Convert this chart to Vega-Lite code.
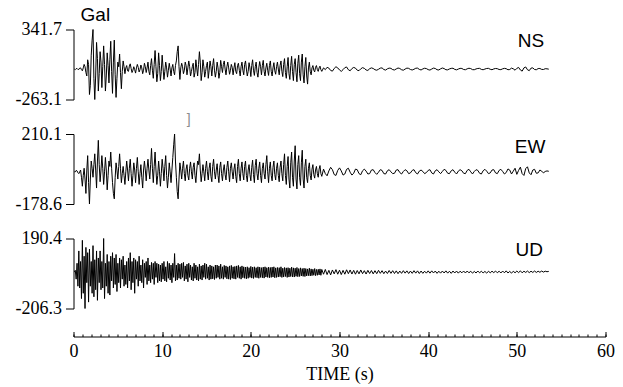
{
  "$schema": "https://vega.github.io/schema/vega-lite/v6.json",
  "padding": {"left": 14.5, "top": 5.5, "right": 10, "bottom": 2},
  "background": "white",
  "config": {"view": {"stroke": null}},
  "datasets": {
    "seis": [
      {"t":0.1,"ns":0,"ew":0,"ud":0},{"t":0.2,"ns":-5,"ew":0,"ud":10},{"t":0.3,"ns":3,"ew":8,"ud":-40},{"t":0.4,"ns":5,"ew":5,"ud":50},
      {"t":0.5,"ns":-4,"ew":-5,"ud":-80},{"t":0.6,"ns":-3,"ew":-10,"ud":120},{"t":0.7,"ns":8,"ew":0,"ud":-90},{"t":0.8,"ns":10,"ew":10,"ud":60},
      {"t":0.9,"ns":-5,"ew":-30,"ud":-150},{"t":1.0,"ns":-15,"ew":-80,"ud":180},{"t":1.1,"ns":10,"ew":-20,"ud":-120},{"t":1.2,"ns":40,"ew":20,"ud":90},
      {"t":1.3,"ns":20,"ew":-40,"ud":-206.3},{"t":1.4,"ns":-30,"ew":-120,"ud":140},{"t":1.5,"ns":-60,"ew":10,"ud":-60},{"t":1.6,"ns":80,"ew":90,"ud":110},
      {"t":1.7,"ns":40,"ew":-60,"ud":-170},{"t":1.8,"ns":-220,"ew":-178.6,"ud":130},{"t":1.9,"ns":-140,"ew":-40,"ud":-80},{"t":2.0,"ns":120,"ew":60,"ud":60},
      {"t":2.1,"ns":250,"ew":20,"ud":-120},{"t":2.2,"ns":341.7,"ew":-30,"ud":150},{"t":2.3,"ns":-80,"ew":40,"ud":-140},{"t":2.4,"ns":-263.1,"ew":100,"ud":70},
      {"t":2.5,"ns":-60,"ew":10,"ud":-100},{"t":2.6,"ns":230,"ew":-90,"ud":120},{"t":2.7,"ns":90,"ew":60,"ud":-160},{"t":2.8,"ns":-190,"ew":175,"ud":80},
      {"t":2.9,"ns":-40,"ew":40,"ud":-60},{"t":3.0,"ns":150,"ew":-55,"ud":120},{"t":3.1,"ns":60,"ew":10,"ud":-100},{"t":3.2,"ns":-160,"ew":90,"ud":60},
      {"t":3.3,"ns":20,"ew":20,"ud":-90},{"t":3.4,"ns":200,"ew":-70,"ud":190.4},{"t":3.5,"ns":40,"ew":0,"ud":-150},{"t":3.6,"ns":-190,"ew":80,"ud":50},
      {"t":3.7,"ns":-60,"ew":10,"ud":-80},{"t":3.8,"ns":140,"ew":-100,"ud":100},{"t":3.9,"ns":30,"ew":-20,"ud":-120},{"t":4.0,"ns":-120,"ew":60,"ud":60},
      {"t":4.1,"ns":80,"ew":30,"ud":-130},{"t":4.2,"ns":240,"ew":110,"ud":90},{"t":4.3,"ns":-20,"ew":20,"ud":-50},{"t":4.4,"ns":-210,"ew":-60,"ud":110},
      {"t":4.5,"ns":60,"ew":-120,"ud":-90},{"t":4.6,"ns":250,"ew":-150,"ud":80},{"t":4.7,"ns":-50,"ew":-30,"ud":-70},{"t":4.8,"ns":-245,"ew":50,"ud":100},
      {"t":4.9,"ns":-80,"ew":10,"ud":-110},{"t":5.0,"ns":60,"ew":-40,"ud":50},{"t":5.1,"ns":20,"ew":30,"ud":-60},{"t":5.2,"ns":130,"ew":100,"ud":80},
      {"t":5.3,"ns":-30,"ew":20,"ud":-90},{"t":5.4,"ns":-170,"ew":-60,"ud":70},{"t":5.5,"ns":-20,"ew":-10,"ud":-40},{"t":5.6,"ns":70,"ew":30,"ud":90},
      {"t":5.7,"ns":20,"ew":-20,"ud":-80},{"t":5.8,"ns":-40,"ew":-70,"ud":40},{"t":5.9,"ns":10,"ew":0,"ud":-70},{"t":6.0,"ns":30,"ew":60,"ud":60},
      {"t":6.1,"ns":-15,"ew":10,"ud":-90},{"t":6.2,"ns":-20,"ew":-50,"ud":80},{"t":6.3,"ns":25,"ew":20,"ud":-50},{"t":6.4,"ns":45,"ew":70,"ud":110},
      {"t":6.5,"ns":5,"ew":-10,"ud":-100},{"t":6.6,"ns":-30,"ew":-80,"ud":60},{"t":6.7,"ns":-10,"ew":-20,"ud":-60},{"t":6.8,"ns":20,"ew":50,"ud":80},
      {"t":6.9,"ns":-5,"ew":10,"ud":-120},{"t":7.0,"ns":-35,"ew":-60,"ud":70},{"t":7.1,"ns":10,"ew":20,"ud":-40},{"t":7.2,"ns":40,"ew":80,"ud":60},
      {"t":7.3,"ns":15,"ew":0,"ud":-80},{"t":7.4,"ns":-25,"ew":-70,"ud":90},{"t":7.5,"ns":-5,"ew":-10,"ud":-50},{"t":7.6,"ns":35,"ew":40,"ud":40},
      {"t":7.7,"ns":10,"ew":-30,"ud":-60},{"t":7.8,"ns":-40,"ew":-90,"ud":70},{"t":7.9,"ns":-10,"ew":10,"ud":-90},{"t":8.0,"ns":50,"ew":60,"ud":50},
      {"t":8.1,"ns":20,"ew":10,"ud":-30},{"t":8.2,"ns":-30,"ew":-50,"ud":60},{"t":8.3,"ns":10,"ew":20,"ud":-70},{"t":8.4,"ns":60,"ew":70,"ud":80},
      {"t":8.5,"ns":-20,"ew":10,"ud":-50},{"t":8.6,"ns":-50,"ew":-40,"ud":40},{"t":8.7,"ns":30,"ew":40,"ud":-60},{"t":8.8,"ns":90,"ew":130,"ud":55},
      {"t":8.9,"ns":-10,"ew":20,"ud":-40},{"t":9.0,"ns":-80,"ew":-60,"ud":50},{"t":9.1,"ns":40,"ew":30,"ud":-70},{"t":9.2,"ns":160,"ew":110,"ud":60},
      {"t":9.3,"ns":20,"ew":10,"ud":-30},{"t":9.4,"ns":-110,"ew":-70,"ud":50},{"t":9.5,"ns":-40,"ew":-20,"ud":-60},{"t":9.6,"ns":140,"ew":60,"ud":45},
      {"t":9.7,"ns":30,"ew":0,"ud":-50},{"t":9.8,"ns":-100,"ew":-80,"ud":40},{"t":9.9,"ns":-20,"ew":-10,"ud":-55},{"t":10.0,"ns":120,"ew":70,"ud":50},
      {"t":10.1,"ns":10,"ew":20,"ud":-40},{"t":10.2,"ns":-90,"ew":-50,"ud":60},{"t":10.3,"ns":-20,"ew":30,"ud":-50},{"t":10.4,"ns":60,"ew":90,"ud":30},
      {"t":10.5,"ns":10,"ew":-20,"ud":-55},{"t":10.6,"ns":-70,"ew":-90,"ud":60},{"t":10.7,"ns":-10,"ew":-30,"ud":-35},{"t":10.8,"ns":50,"ew":50,"ud":50},
      {"t":10.9,"ns":0,"ew":0,"ud":-45},{"t":11.0,"ns":-60,"ew":-60,"ud":40},{"t":11.1,"ns":10,"ew":10,"ud":-60},{"t":11.2,"ns":40,"ew":80,"ud":50},
      {"t":11.3,"ns":-20,"ew":150,"ud":-30},{"t":11.4,"ns":-50,"ew":210.1,"ud":105},{"t":11.5,"ns":30,"ew":60,"ud":-50},{"t":11.6,"ns":70,"ew":-30,"ud":40},
      {"t":11.7,"ns":150,"ew":-110,"ud":-45},{"t":11.8,"ns":200,"ew":-150,"ud":50},{"t":11.9,"ns":20,"ew":-40,"ud":-35},{"t":12.0,"ns":-90,"ew":50,"ud":45},
      {"t":12.1,"ns":10,"ew":10,"ud":-40},{"t":12.2,"ns":50,"ew":-40,"ud":50},{"t":12.3,"ns":20,"ew":20,"ud":-30},{"t":12.4,"ns":-40,"ew":60,"ud":55},
      {"t":12.5,"ns":-10,"ew":-10,"ud":-50},{"t":12.6,"ns":60,"ew":-50,"ud":35},{"t":12.7,"ns":30,"ew":15,"ud":-40},{"t":12.8,"ns":-50,"ew":40,"ud":45},
      {"t":12.9,"ns":10,"ew":-20,"ud":-55},{"t":13.0,"ns":70,"ew":-45,"ud":50},{"t":13.1,"ns":20,"ew":20,"ud":-30},{"t":13.2,"ns":-60,"ew":55,"ud":40},
      {"t":13.3,"ns":-20,"ew":0,"ud":-45},{"t":13.4,"ns":20,"ew":-40,"ud":30},{"t":13.5,"ns":50,"ew":25,"ud":-50},{"t":13.6,"ns":-70,"ew":50,"ud":50},
      {"t":13.7,"ns":-30,"ew":-20,"ud":-35},{"t":13.8,"ns":80,"ew":-60,"ud":40},{"t":13.9,"ns":10,"ew":10,"ud":-45},{"t":14.0,"ns":-60,"ew":60,"ud":30},
      {"t":14.1,"ns":40,"ew":40,"ud":-50},{"t":14.2,"ns":150,"ew":100,"ud":45},{"t":14.3,"ns":60,"ew":10,"ud":-40},{"t":14.4,"ns":-100,"ew":-55,"ud":35},
      {"t":14.5,"ns":-30,"ew":-10,"ud":-45},{"t":14.6,"ns":80,"ew":40,"ud":40},{"t":14.7,"ns":20,"ew":0,"ud":-30},{"t":14.8,"ns":-70,"ew":-50,"ud":50},
      {"t":14.9,"ns":-20,"ew":20,"ud":-40},{"t":15.0,"ns":30,"ew":60,"ud":45},{"t":15.1,"ns":60,"ew":0,"ud":-35},{"t":15.2,"ns":-80,"ew":-45,"ud":30},
      {"t":15.3,"ns":-10,"ew":20,"ud":-45},{"t":15.4,"ns":70,"ew":50,"ud":40},{"t":15.5,"ns":20,"ew":-25,"ud":-40},{"t":15.6,"ns":-60,"ew":-55,"ud":35},
      {"t":15.7,"ns":30,"ew":30,"ud":-38},{"t":15.8,"ns":90,"ew":70,"ud":30},{"t":15.9,"ns":-10,"ew":0,"ud":-42},{"t":16.0,"ns":-70,"ew":-40,"ud":40},
      {"t":16.1,"ns":-20,"ew":10,"ud":-35},{"t":16.2,"ns":60,"ew":45,"ud":40},{"t":16.3,"ns":10,"ew":-20,"ud":-30},{"t":16.4,"ns":-80,"ew":-60,"ud":35},
      {"t":16.5,"ns":-30,"ew":25,"ud":-40},{"t":16.6,"ns":75,"ew":55,"ud":45},{"t":16.7,"ns":20,"ew":-10,"ud":-35},{"t":16.8,"ns":-30,"ew":-50,"ud":30},
      {"t":16.9,"ns":40,"ew":10,"ud":-40},{"t":17.0,"ns":70,"ew":40,"ud":38},{"t":17.1,"ns":0,"ew":-15,"ud":-30},{"t":17.2,"ns":-50,"ew":-45,"ud":35},
      {"t":17.3,"ns":20,"ew":25,"ud":-38},{"t":17.4,"ns":60,"ew":60,"ud":30},{"t":17.5,"ns":10,"ew":0,"ud":-40},{"t":17.6,"ns":-45,"ew":-55,"ud":35},
      {"t":17.7,"ns":-10,"ew":20,"ud":-42},{"t":17.8,"ns":40,"ew":50,"ud":38},{"t":17.9,"ns":15,"ew":0,"ud":-35},{"t":18.0,"ns":-50,"ew":-40,"ud":30},
      {"t":18.1,"ns":10,"ew":15,"ud":-38},{"t":18.2,"ns":55,"ew":45,"ud":32},{"t":18.3,"ns":-20,"ew":-25,"ud":-40},{"t":18.4,"ns":-40,"ew":-60,"ud":35},
      {"t":18.5,"ns":30,"ew":30,"ud":-30},{"t":18.6,"ns":50,"ew":70,"ud":38},{"t":18.7,"ns":-10,"ew":-10,"ud":-35},{"t":18.8,"ns":-60,"ew":-50,"ud":30},
      {"t":18.9,"ns":20,"ew":20,"ud":-40},{"t":19.0,"ns":60,"ew":55,"ud":35},{"t":19.1,"ns":-10,"ew":-10,"ud":-32},{"t":19.2,"ns":-50,"ew":-45,"ud":30},
      {"t":19.3,"ns":40,"ew":30,"ud":-35},{"t":19.4,"ns":70,"ew":60,"ud":28},{"t":19.5,"ns":0,"ew":-20,"ud":-38},{"t":19.6,"ns":-60,"ew":-55,"ud":30},
      {"t":19.7,"ns":-20,"ew":10,"ud":-35},{"t":19.8,"ns":55,"ew":40,"ud":25},{"t":19.9,"ns":10,"ew":-15,"ud":-30},{"t":20.0,"ns":-65,"ew":-50,"ud":32},
      {"t":20.1,"ns":30,"ew":25,"ud":-34},{"t":20.2,"ns":80,"ew":65,"ud":28},{"t":20.3,"ns":-10,"ew":-15,"ud":-36},{"t":20.4,"ns":-55,"ew":-60,"ud":30},
      {"t":20.5,"ns":20,"ew":35,"ud":-30},{"t":20.6,"ns":60,"ew":70,"ud":25},{"t":20.7,"ns":-30,"ew":-10,"ud":-32},{"t":20.8,"ns":-70,"ew":-45,"ud":30},
      {"t":20.9,"ns":10,"ew":20,"ud":-35},{"t":21.0,"ns":65,"ew":55,"ud":28},{"t":21.1,"ns":20,"ew":-20,"ud":-30},{"t":21.2,"ns":-50,"ew":-60,"ud":25},
      {"t":21.3,"ns":30,"ew":20,"ud":-32},{"t":21.4,"ns":75,"ew":50,"ud":28},{"t":21.5,"ns":-20,"ew":-10,"ud":-34},{"t":21.6,"ns":-60,"ew":-40,"ud":30},
      {"t":21.7,"ns":10,"ew":40,"ud":-28},{"t":21.8,"ns":50,"ew":90,"ud":25},{"t":21.9,"ns":-10,"ew":0,"ud":-30},{"t":22.0,"ns":-55,"ew":-60,"ud":28},
      {"t":22.1,"ns":30,"ew":20,"ud":-32},{"t":22.2,"ns":70,"ew":55,"ud":26},{"t":22.3,"ns":-20,"ew":-20,"ud":-30},{"t":22.4,"ns":-60,"ew":-50,"ud":28},
      {"t":22.5,"ns":10,"ew":25,"ud":-28},{"t":22.6,"ns":55,"ew":60,"ud":30},{"t":22.7,"ns":-15,"ew":-15,"ud":-32},{"t":22.8,"ns":-45,"ew":-45,"ud":24},
      {"t":22.9,"ns":20,"ew":20,"ud":-30},{"t":23.0,"ns":60,"ew":50,"ud":26},{"t":23.1,"ns":0,"ew":-20,"ud":-28},{"t":23.2,"ns":-50,"ew":-55,"ud":25},
      {"t":23.3,"ns":30,"ew":25,"ud":-26},{"t":23.4,"ns":70,"ew":60,"ud":30},{"t":23.5,"ns":-20,"ew":-10,"ud":-30},{"t":23.6,"ns":-65,"ew":-50,"ud":22},
      {"t":23.7,"ns":40,"ew":40,"ud":-28},{"t":23.8,"ns":90,"ew":100,"ud":26},{"t":23.9,"ns":-30,"ew":-20,"ud":-25},{"t":24.0,"ns":-80,"ew":-70,"ud":24},
      {"t":24.1,"ns":20,"ew":30,"ud":-30},{"t":24.2,"ns":100,"ew":85,"ud":25},{"t":24.3,"ns":-40,"ew":-40,"ud":-28},{"t":24.4,"ns":-90,"ew":-90,"ud":22},
      {"t":24.5,"ns":30,"ew":50,"ud":-25},{"t":24.6,"ns":110,"ew":110,"ud":28},{"t":24.7,"ns":-20,"ew":-30,"ud":-27},{"t":24.8,"ns":-100,"ew":-80,"ud":24},
      {"t":24.9,"ns":40,"ew":60,"ud":-28},{"t":25.0,"ns":90,"ew":145,"ud":22},{"t":25.1,"ns":-30,"ew":-40,"ud":-24},{"t":25.2,"ns":-110,"ew":-95,"ud":26},
      {"t":25.3,"ns":50,"ew":40,"ud":-26},{"t":25.4,"ns":120,"ew":90,"ud":20},{"t":25.5,"ns":-40,"ew":-30,"ud":-25},{"t":25.6,"ns":-100,"ew":-75,"ud":24},
      {"t":25.7,"ns":60,"ew":50,"ud":-22},{"t":25.8,"ns":130,"ew":120,"ud":20},{"t":25.9,"ns":-50,"ew":-40,"ud":-24},{"t":26.0,"ns":-120,"ew":-90,"ud":22},
      {"t":26.1,"ns":20,"ew":30,"ud":-25},{"t":26.2,"ns":100,"ew":70,"ud":20},{"t":26.3,"ns":-60,"ew":-30,"ud":-22},{"t":26.4,"ns":-130,"ew":-60,"ud":18},
      {"t":26.5,"ns":10,"ew":20,"ud":-20},{"t":26.6,"ns":60,"ew":50,"ud":22},{"t":26.7,"ns":-20,"ew":-20,"ud":-22},{"t":26.8,"ns":-50,"ew":-45,"ud":18},
      {"t":26.9,"ns":10,"ew":15,"ud":-20},{"t":27.0,"ns":30,"ew":40,"ud":16},{"t":27.1,"ns":-10,"ew":-15,"ud":-18},{"t":27.2,"ns":-25,"ew":-35,"ud":20},
      {"t":27.3,"ns":15,"ew":10,"ud":-20},{"t":27.4,"ns":30,"ew":30,"ud":15},{"t":27.5,"ns":-5,"ew":-10,"ud":-18},{"t":27.6,"ns":-20,"ew":-30,"ud":16},
      {"t":27.7,"ns":10,"ew":15,"ud":-16},{"t":27.8,"ns":25,"ew":35,"ud":18},{"t":27.9,"ns":-5,"ew":-10,"ud":-18},{"t":28.0,"ns":-20,"ew":-25,"ud":15},
      {"t":28.2,"ns":10,"ew":15,"ud":-12},{"t":28.4,"ns":-5,"ew":-10,"ud":15},{"t":28.6,"ns":15,"ew":-22,"ud":-14},{"t":28.8,"ns":8,"ew":5,"ud":10},
      {"t":29.0,"ns":-12,"ew":25,"ud":-16},{"t":29.2,"ns":-18,"ew":12,"ud":12},{"t":29.4,"ns":5,"ew":-15,"ud":-10},{"t":29.6,"ns":20,"ew":-20,"ud":14},
      {"t":29.8,"ns":10,"ew":8,"ud":-12},{"t":30.0,"ns":-8,"ew":22,"ud":11},{"t":30.2,"ns":-20,"ew":5,"ud":-14},{"t":30.4,"ns":-5,"ew":-18,"ud":10},
      {"t":30.6,"ns":12,"ew":-12,"ud":-12},{"t":30.8,"ns":18,"ew":14,"ud":13},{"t":31.0,"ns":-6,"ew":20,"ud":-9},{"t":31.2,"ns":-15,"ew":-2,"ud":12},
      {"t":31.4,"ns":4,"ew":-18,"ud":-11},{"t":31.6,"ns":14,"ew":-8,"ud":10},{"t":31.8,"ns":8,"ew":15,"ud":-12},{"t":32.0,"ns":-10,"ew":12,"ud":9},
      {"t":32.2,"ns":-14,"ew":-10,"ud":-10},{"t":32.4,"ns":2,"ew":-16,"ud":12},{"t":32.6,"ns":12,"ew":6,"ud":-9},{"t":32.8,"ns":6,"ew":15,"ud":8},
      {"t":33.0,"ns":-8,"ew":4,"ud":-11},{"t":33.2,"ns":-12,"ew":-12,"ud":10},{"t":33.4,"ns":3,"ew":-10,"ud":-8},{"t":33.6,"ns":10,"ew":10,"ud":9},
      {"t":33.8,"ns":5,"ew":12,"ud":-10},{"t":34.0,"ns":-6,"ew":-4,"ud":8},{"t":34.2,"ns":-10,"ew":-14,"ud":-9},{"t":34.4,"ns":-2,"ew":-2,"ud":10},
      {"t":34.6,"ns":8,"ew":12,"ud":-7},{"t":34.8,"ns":10,"ew":8,"ud":8},{"t":35.0,"ns":-4,"ew":-10,"ud":-9},{"t":35.2,"ns":-9,"ew":-12,"ud":6},
      {"t":35.4,"ns":2,"ew":6,"ud":-8},{"t":35.6,"ns":8,"ew":12,"ud":9},{"t":35.8,"ns":6,"ew":0,"ud":-7},{"t":36.0,"ns":-5,"ew":-10,"ud":8},
      {"t":36.2,"ns":-8,"ew":-8,"ud":-8},{"t":36.4,"ns":1,"ew":10,"ud":7},{"t":36.6,"ns":9,"ew":12,"ud":-9},{"t":36.8,"ns":5,"ew":-4,"ud":6},
      {"t":37.0,"ns":-6,"ew":-12,"ud":-7},{"t":37.2,"ns":-10,"ew":2,"ud":8},{"t":37.4,"ns":0,"ew":12,"ud":-6},{"t":37.6,"ns":8,"ew":6,"ud":7},
      {"t":37.8,"ns":6,"ew":-10,"ud":-8},{"t":38.0,"ns":-4,"ew":-6,"ud":6},{"t":38.2,"ns":-8,"ew":8,"ud":-7},{"t":38.4,"ns":-2,"ew":12,"ud":8},
      {"t":38.6,"ns":7,"ew":-5,"ud":-6},{"t":38.8,"ns":8,"ew":-12,"ud":7},{"t":39.0,"ns":-3,"ew":4,"ud":-8},{"t":39.2,"ns":-8,"ew":10,"ud":6},
      {"t":39.4,"ns":1,"ew":2,"ud":-7},{"t":39.6,"ns":7,"ew":-10,"ud":5},{"t":39.8,"ns":4,"ew":-4,"ud":-6},{"t":40.0,"ns":-5,"ew":8,"ud":7},
      {"t":40.2,"ns":-9,"ew":12,"ud":-6},{"t":40.4,"ns":0,"ew":-6,"ud":7},{"t":40.6,"ns":8,"ew":-12,"ud":-5},{"t":40.8,"ns":5,"ew":6,"ud":6},
      {"t":41.0,"ns":-6,"ew":12,"ud":-7},{"t":41.2,"ns":-8,"ew":0,"ud":5},{"t":41.4,"ns":2,"ew":-10,"ud":-6},{"t":41.6,"ns":9,"ew":2,"ud":6},
      {"t":41.8,"ns":4,"ew":14,"ud":-5},{"t":42.0,"ns":-6,"ew":8,"ud":7},{"t":42.2,"ns":-7,"ew":-8,"ud":-6},{"t":42.4,"ns":1,"ew":-10,"ud":5},
      {"t":42.6,"ns":6,"ew":6,"ud":-7},{"t":42.8,"ns":7,"ew":12,"ud":6},{"t":43.0,"ns":-3,"ew":-2,"ud":-5},{"t":43.2,"ns":-7,"ew":-12,"ud":6},
      {"t":43.4,"ns":0,"ew":4,"ud":-6},{"t":43.6,"ns":6,"ew":12,"ud":5},{"t":43.8,"ns":5,"ew":6,"ud":-4},{"t":44.0,"ns":-4,"ew":-8,"ud":6},
      {"t":44.2,"ns":-6,"ew":-10,"ud":-5},{"t":44.4,"ns":2,"ew":8,"ud":6},{"t":44.6,"ns":7,"ew":14,"ud":-4},{"t":44.8,"ns":4,"ew":0,"ud":5},
      {"t":45.0,"ns":-5,"ew":-12,"ud":-6},{"t":45.2,"ns":-6,"ew":2,"ud":4},{"t":45.4,"ns":1,"ew":12,"ud":-5},{"t":45.6,"ns":5,"ew":8,"ud":6},
      {"t":45.8,"ns":6,"ew":-8,"ud":-4},{"t":46.0,"ns":-3,"ew":-12,"ud":5},{"t":46.2,"ns":-6,"ew":6,"ud":-5},{"t":46.4,"ns":0,"ew":14,"ud":4},
      {"t":46.6,"ns":5,"ew":4,"ud":-6},{"t":46.8,"ns":6,"ew":-10,"ud":5},{"t":47.0,"ns":-2,"ew":-6,"ud":-4},{"t":47.2,"ns":-6,"ew":10,"ud":5},
      {"t":47.4,"ns":1,"ew":12,"ud":-3},{"t":47.6,"ns":5,"ew":-6,"ud":6},{"t":47.8,"ns":3,"ew":-10,"ud":-4},{"t":48.0,"ns":-4,"ew":8,"ud":5},
      {"t":48.2,"ns":-5,"ew":14,"ud":-5},{"t":48.4,"ns":2,"ew":2,"ud":6},{"t":48.6,"ns":6,"ew":-12,"ud":-4},{"t":48.8,"ns":3,"ew":-4,"ud":7},
      {"t":49.0,"ns":-6,"ew":16,"ud":-5},{"t":49.2,"ns":-4,"ew":10,"ud":4},{"t":49.4,"ns":8,"ew":-12,"ud":-6},{"t":49.6,"ns":2,"ew":4,"ud":5},
      {"t":49.8,"ns":-10,"ew":20,"ud":-4},{"t":50.0,"ns":6,"ew":-14,"ud":6},{"t":50.2,"ns":14,"ew":8,"ud":-3},{"t":50.4,"ns":-8,"ew":26,"ud":7},
      {"t":50.6,"ns":-18,"ew":-10,"ud":-4},{"t":50.8,"ns":10,"ew":-20,"ud":5},{"t":51.0,"ns":18,"ew":18,"ud":-2},{"t":51.2,"ns":-6,"ew":28,"ud":6},
      {"t":51.4,"ns":-14,"ew":-6,"ud":-3},{"t":51.6,"ns":8,"ew":-16,"ud":5},{"t":51.8,"ns":10,"ew":10,"ud":-2},{"t":52.0,"ns":-4,"ew":14,"ud":6},
      {"t":52.2,"ns":-6,"ew":-8,"ud":-2},{"t":52.4,"ns":4,"ew":-6,"ud":5},{"t":52.6,"ns":5,"ew":10,"ud":-1},{"t":52.8,"ns":-3,"ew":4,"ud":6},
      {"t":53.0,"ns":-4,"ew":-6,"ud":0},{"t":53.2,"ns":3,"ew":2,"ud":5},{"t":53.4,"ns":2,"ew":5,"ud":2},{"t":53.6,"ns":-1,"ew":3,"ud":4}
    ]
  },
  "data": {"name": "seis"},
  "bounds": "flush",
  "spacing": 34.5,
  "vconcat": [
    {
      "width": 532,
      "height": 70,
      "layer": [
        {
          "mark": {"type": "line", "color": "black", "strokeWidth": 1},
          "encoding": {
            "x": {"field": "t", "type": "quantitative", "scale": {"domain": [0, 60], "nice": false}, "axis": null},
            "y": {"field": "ns", "type": "quantitative", "scale": {"domain": [-263.1, 341.7], "nice": false, "zero": false},
              "axis": {"values": [-263.1, 341.7], "labelExpr": "datum.value < 0 ? '-' + format(-datum.value, '.1f') : format(datum.value, '.1f')", "title": null, "grid": false, "tickSize": 8, "labelPadding": 4, "labelFont": "Liberation Serif", "labelFontSize": 18, "labelColor": "black", "domainColor": "black", "tickColor": "black", "labelFlush": false, "labelOverlap": false, "labelBound": false}}
          }
        },
        {
          "data": {"values": [{"name": "NS"}]},
          "mark": {"type": "text", "font": "Liberation Sans", "fontSize": 19, "color": "black", "baseline": "middle", "align": "center"},
          "encoding": {
            "x": {"datum": 51.6, "type": "quantitative"},
            "y": {"datum": 242, "type": "quantitative"},
            "text": {"field": "name"}
          }
        },
        {
          "data": {"values": [{"name": "Gal"}]},
          "mark": {"type": "text", "font": "Liberation Sans", "fontSize": 19, "color": "black", "baseline": "alphabetic", "align": "left"},
          "encoding": {
            "x": {"datum": 0.8, "type": "quantitative"},
            "y": {"datum": 418, "type": "quantitative"},
            "text": {"field": "name"}
          }
        }
      ]
    },
    {
      "width": 532,
      "height": 70,
      "layer": [
        {
          "mark": {"type": "line", "color": "black", "strokeWidth": 1},
          "encoding": {
            "x": {"field": "t", "type": "quantitative", "scale": {"domain": [0, 60], "nice": false}, "axis": null},
            "y": {"field": "ew", "type": "quantitative", "scale": {"domain": [-178.6, 210.1], "nice": false, "zero": false},
              "axis": {"values": [-178.6, 210.1], "labelExpr": "datum.value < 0 ? '-' + format(-datum.value, '.1f') : format(datum.value, '.1f')", "title": null, "grid": false, "tickSize": 8, "labelPadding": 4, "labelFont": "Liberation Serif", "labelFontSize": 18, "labelColor": "black", "domainColor": "black", "tickColor": "black", "labelFlush": false, "labelOverlap": false, "labelBound": false}}
          }
        },
        {
          "data": {"values": [{"name": "EW"}]},
          "mark": {"type": "text", "font": "Liberation Sans", "fontSize": 19, "color": "black", "baseline": "middle", "align": "center"},
          "encoding": {
            "x": {"datum": 51.5, "type": "quantitative"},
            "y": {"datum": 137, "type": "quantitative"},
            "text": {"field": "name"}
          }
        },
        {
          "data": {"values": [{"name": "]"}]},
          "mark": {"type": "text", "font": "Liberation Sans", "fontSize": 14, "color": "#8c8c8c", "baseline": "middle", "align": "center"},
          "encoding": {
            "x": {"datum": 13.0, "type": "quantitative"},
            "y": {"datum": 288, "type": "quantitative"},
            "text": {"field": "name"}
          }
        }
      ]
    },
    {
      "width": 532,
      "height": 70,
      "resolve": {"axis": {"x": "independent"}},
      "layer": [
        {
          "mark": {"type": "line", "color": "black", "strokeWidth": 1},
          "encoding": {
            "x": {"field": "t", "type": "quantitative", "scale": {"domain": [0, 60], "nice": false},
              "axis": {"orient": "bottom", "values": [0, 10, 20, 30, 40, 50, 60], "tickSize": -5, "offset": 28, "labelPadding": 11,
                "title": "TIME (s)", "titleFont": "Liberation Serif", "titleFontSize": 18, "titleFontWeight": "normal", "titleColor": "black", "titlePadding": 5,
                "labelFont": "Liberation Serif", "labelFontSize": 18, "labelColor": "black", "grid": false, "domainColor": "black", "tickColor": "black", "labelFlush": false, "labelOverlap": false}},
            "y": {"field": "ud", "type": "quantitative", "scale": {"domain": [-206.3, 190.4], "nice": false, "zero": false},
              "axis": {"values": [-206.3, 190.4], "labelExpr": "datum.value < 0 ? '-' + format(-datum.value, '.1f') : format(datum.value, '.1f')", "title": null, "grid": false, "tickSize": 8, "labelPadding": 4, "labelFont": "Liberation Serif", "labelFontSize": 18, "labelColor": "black", "domainColor": "black", "tickColor": "black", "labelFlush": false, "labelOverlap": false, "labelBound": false}}
          }
        },
        {
          "data": {"values": [{"name": "UD"}]},
          "mark": {"type": "text", "font": "Liberation Sans", "fontSize": 19, "color": "black", "baseline": "middle", "align": "center"},
          "encoding": {
            "x": {"datum": 51.4, "type": "quantitative",
              "axis": {"orient": "bottom", "values": [0,1,2,3,4,5,6,7,8,9,10,11,12,13,14,15,16,17,18,19,20,21,22,23,24,25,26,27,28,29,30,31,32,33,34,35,36,37,38,39,40,41,42,43,44,45,46,47,48,49,50,51,52,53,54,55,56,57,58,59,60],
                "labels": false, "domain": false, "tickSize": -2.5, "tickColor": "black", "offset": 28, "title": null, "grid": false}},
            "y": {"datum": 128, "type": "quantitative"},
            "text": {"field": "name"}
          }
        }
      ]
    }
  ]
}
